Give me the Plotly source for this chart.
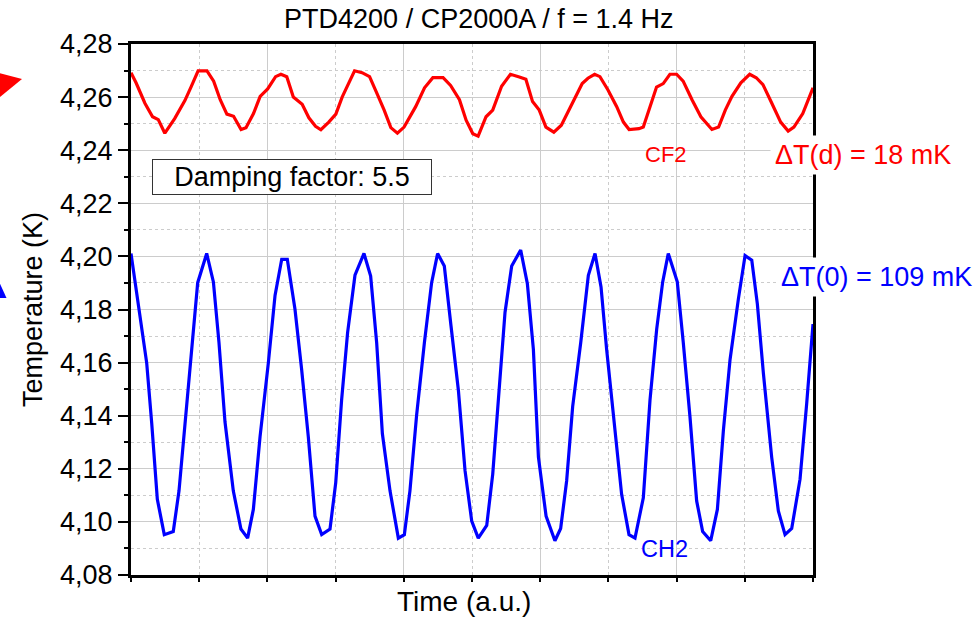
import plotly.graph_objects as go

# ---- data (Time in a.u., Temperature in K) ----
cf2_time = [0.000, 0.037, 0.102, 0.158, 0.200, 0.248, 0.320, 0.395, 0.443, 0.492,
            0.557, 0.606, 0.654, 0.703, 0.752, 0.807, 0.843, 0.898, 0.947, 1.002,
            1.060, 1.099, 1.142, 1.190, 1.255, 1.304, 1.353, 1.392, 1.450, 1.502,
            1.548, 1.596, 1.639, 1.694, 1.749, 1.807, 1.856, 1.905, 1.953, 2.002,
            2.087, 2.152, 2.213, 2.288, 2.343, 2.408, 2.457, 2.506, 2.545, 2.603,
            2.652, 2.717, 2.782, 2.847, 2.895, 2.944, 2.993, 3.042, 3.100, 3.155,
            3.204, 3.253, 3.308, 3.350, 3.399, 3.438, 3.496, 3.561, 3.610, 3.652,
            3.724, 3.756, 3.805, 3.853, 3.902, 3.951, 4.000, 4.048, 4.113, 4.178,
            4.259, 4.308, 4.357, 4.406, 4.471, 4.536, 4.584, 4.633, 4.698, 4.763,
            4.818, 4.860, 4.925, 5.000]
cf2_temp = [4.2692, 4.2654, 4.2577, 4.2526, 4.2515, 4.2464, 4.2519, 4.2587, 4.2641, 4.2699,
            4.2699, 4.2660, 4.2590, 4.2536, 4.2528, 4.2478, 4.2485, 4.2538, 4.2603, 4.2631,
            4.2677, 4.2686, 4.2677, 4.2600, 4.2573, 4.2522, 4.2490, 4.2477, 4.2506, 4.2536,
            4.2600, 4.2654, 4.2699, 4.2692, 4.2677, 4.2609, 4.2551, 4.2485, 4.2464, 4.2487,
            4.2564, 4.2635, 4.2673, 4.2673, 4.2644, 4.2590, 4.2513, 4.2462, 4.2453, 4.2526,
            4.2551, 4.2641, 4.2686, 4.2676, 4.2667, 4.2583, 4.2551, 4.2487, 4.2468, 4.2494,
            4.2545, 4.2596, 4.2651, 4.2671, 4.2686, 4.2677, 4.2628, 4.2564, 4.2506, 4.2478,
            4.2481, 4.2487, 4.2564, 4.2638, 4.2651, 4.2686, 4.2686, 4.2660, 4.2590, 4.2526,
            4.2478, 4.2487, 4.2551, 4.2603, 4.2654, 4.2686, 4.2673, 4.2647, 4.2577, 4.2506,
            4.2472, 4.2487, 4.2538, 4.2635]

ch2_time = [0.000, 0.054, 0.115, 0.152, 0.193, 0.244, 0.310, 0.352, 0.396, 0.440,
            0.489, 0.555, 0.604, 0.645, 0.689, 0.750, 0.806, 0.855, 0.897, 0.946,
            1.007, 1.056, 1.105, 1.146, 1.202, 1.251, 1.300, 1.349, 1.398, 1.459,
            1.501, 1.544, 1.588, 1.642, 1.708, 1.757, 1.801, 1.843, 1.899, 1.960,
            2.004, 2.045, 2.094, 2.151, 2.204, 2.248, 2.297, 2.346, 2.400, 2.449,
            2.498, 2.546, 2.608, 2.652, 2.693, 2.742, 2.791, 2.857, 2.906, 2.950,
            2.987, 3.043, 3.108, 3.150, 3.194, 3.238, 3.297, 3.353, 3.402, 3.446,
            3.487, 3.541, 3.597, 3.651, 3.695, 3.756, 3.805, 3.854, 3.898, 3.939,
            4.005, 4.049, 4.098, 4.147, 4.191, 4.250, 4.299, 4.343, 4.392, 4.453,
            4.502, 4.551, 4.592, 4.636, 4.697, 4.746, 4.795, 4.844, 4.905, 4.954,
            5.000]
ch2_temp = [4.2011, 4.1821, 4.1599, 4.1371, 4.1085, 4.0952, 4.0964, 4.1117, 4.1364, 4.1637,
            4.1901, 4.2011, 4.1904, 4.1675, 4.1377, 4.1117, 4.0973, 4.0939, 4.1047, 4.1320,
            4.1599, 4.1853, 4.1989, 4.1989, 4.1802, 4.1574, 4.1320, 4.1022, 4.0952, 4.0973,
            4.1148, 4.1459, 4.1713, 4.1929, 4.2011, 4.1926, 4.1675, 4.1332, 4.1117, 4.0939,
            4.0952, 4.1117, 4.1402, 4.1675, 4.1901, 4.2011, 4.1964, 4.1739, 4.1497, 4.1193,
            4.1003, 4.0939, 4.0987, 4.1180, 4.1459, 4.1789, 4.1964, 4.2024, 4.1897, 4.1650,
            4.1244, 4.1022, 4.0929, 4.0975, 4.1155, 4.1434, 4.1675, 4.1929, 4.2011, 4.1885,
            4.1650, 4.1383, 4.1104, 4.0952, 4.0939, 4.1091, 4.1459, 4.1726, 4.1904, 4.2011,
            4.1904, 4.1675, 4.1396, 4.1079, 4.0964, 4.0929, 4.1047, 4.1345, 4.1612, 4.1840,
            4.2003, 4.1986, 4.1821, 4.1561, 4.1244, 4.1041, 4.0952, 4.0975, 4.1161, 4.1447,
            4.1745]

title_text = "PTD4200 / CP2000A / f = 1.4 Hz"
x_title = "Time (a.u.)"
y_title = "Temperature (K)"
y_range = [4.08, 4.28]
x_range = [0, 5]

FONT = "Liberation Sans, Arial, sans-serif"
RED = "#ff0000"
BLUE = "#0000ff"
GRID = "#cccccc"

fig = go.Figure()
fig.add_trace(go.Scatter(x=cf2_time, y=cf2_temp, mode="lines",
                         line=dict(color=RED, width=3.2), name="CF2", showlegend=False))
fig.add_trace(go.Scatter(x=ch2_time, y=ch2_temp, mode="lines",
                         line=dict(color=BLUE, width=3.2), name="CH2", showlegend=False))

fig.update_layout(
    width=977, height=618,
    margin=dict(l=131, r=164, t=44, b=43),
    paper_bgcolor="white", plot_bgcolor="white",
    separators=", ",
    font=dict(family=FONT, size=27, color="black"),
    title=dict(text=title_text, x=0.51, xref="paper", xanchor="center",
               y=1 - 19 / 618, yref="container", yanchor="middle",
               font=dict(size=27, family=FONT, color="black")),
    showlegend=False,
)

fig.update_xaxes(
    range=x_range, showline=True, linecolor="black", linewidth=3, mirror=True,
    ticks="outside", ticklen=4, tickwidth=2, tickcolor="black", dtick=1, tick0=0,
    showticklabels=False, showgrid=True, gridcolor=GRID, gridwidth=1, zeroline=False,
    minor=dict(dtick=0.5, ticks="outside", ticklen=4, tickwidth=2, tickcolor="black",
               showgrid=True, gridcolor=GRID, griddash="dot", gridwidth=1),
)
fig.update_yaxes(
    range=y_range, showline=True, linecolor="black", linewidth=3, mirror=True,
    ticks="outside", ticklen=10, tickwidth=2, tickcolor="black", dtick=0.02, tick0=4.08,
    tickformat=".2f", tickfont=dict(size=27, family=FONT),
    showgrid=True, gridcolor=GRID, gridwidth=1, zeroline=False,
    minor=dict(dtick=0.01, ticks="outside", ticklen=4, tickwidth=2, tickcolor="black",
               showgrid=True, gridcolor=GRID, griddash="dot", gridwidth=1),
    title=dict(text=y_title, standoff=10, font=dict(size=27, family=FONT)),
)

# x-axis title (placed as annotation to match its slightly off-centre position)
fig.add_annotation(x=0.488, y=-0.049, xref="paper", yref="paper", text=x_title,
                   showarrow=False, xanchor="center", yanchor="middle",
                   font=dict(color="black", size=28, family=FONT))

# annotations
fig.add_annotation(x=4.685, y=4.2382, xref="x", yref="y", xanchor="left", yanchor="middle",
                   text="ΔT(d) = 18 mK", showarrow=False, bgcolor="white", borderpad=4,
                   font=dict(color=RED, size=27, family=FONT))
fig.add_annotation(x=4.73, y=4.1922, xref="x", yref="y", xanchor="left", yanchor="middle",
                   text="ΔT(0) = 109 mK", showarrow=False, bgcolor="white", borderpad=4,
                   font=dict(color=BLUE, size=27, family=FONT))
fig.add_annotation(x=3.92, y=4.2382, xref="x", yref="y", text="CF2", showarrow=False,
                   font=dict(color=RED, size=22, family=FONT))
fig.add_annotation(x=3.91, y=4.0899, xref="x", yref="y", text="CH2", showarrow=False,
                   font=dict(color=BLUE, size=23.5, family=FONT))
fig.add_annotation(x=1.18, y=4.2299, xref="x", yref="y", text="Damping factor: 5.5",
                   showarrow=False, bgcolor="white", bordercolor="#333333", borderwidth=1,
                   width=276, height=32, font=dict(color="black", size=27, family=FONT))

# colour-coded axis arrows at the left edge (partially cut off)
def px(p):
    return (p - 131) / 682

def py(p):
    return (575 - p) / 531

fig.add_shape(type="path", xref="paper", yref="paper",
              path=f"M {px(-12)} {py(70)} L {px(22)} {py(79)} L {px(-12)} {py(107)} Z",
              fillcolor=RED, line=dict(width=0))
fig.add_shape(type="path", xref="paper", yref="paper",
              path=f"M {px(-10)} {py(262)} L {px(6.5)} {py(298)} L {px(-10)} {py(298)} Z",
              fillcolor=BLUE, line=dict(width=0))

fig.write_html("out.html")
